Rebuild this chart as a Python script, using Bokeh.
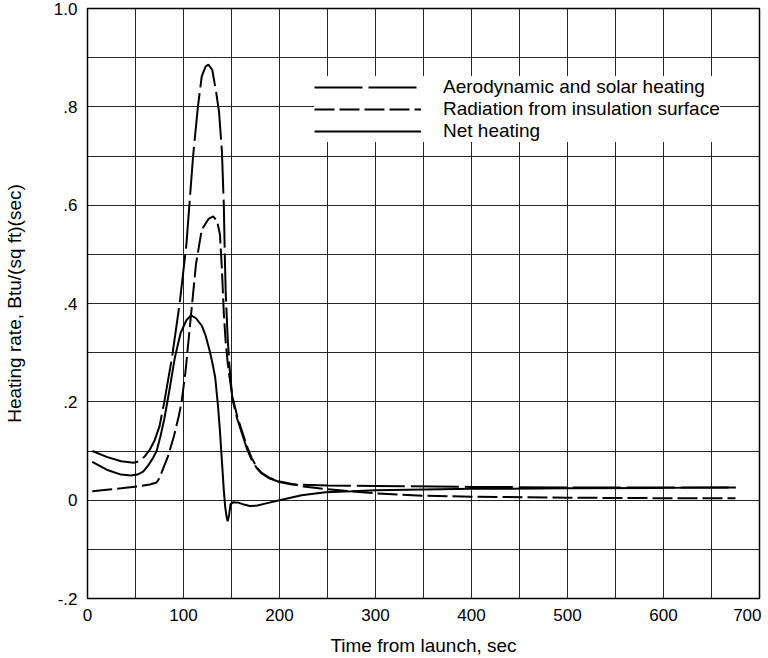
from bokeh.plotting import figure
from bokeh.models import Range1d, FixedTicker, CustomJSTickFormatter
from bokeh.embed import file_html
from bokeh.resources import INLINE

# ---- data ----
aero_t = [5, 20, 35, 48, 55, 60, 65, 70, 75, 80, 88, 96, 103, 110, 115, 119, 123, 126, 130, 134, 137,
          140, 142, 143, 144, 146, 148, 151, 156, 161, 166, 171, 176, 181, 190, 200, 213, 250, 300,
          400, 500, 600, 675]
aero_v = [0.100, 0.088, 0.079, 0.076, 0.080, 0.090, 0.103, 0.122, 0.150, 0.200, 0.290, 0.400, 0.520,
          0.700, 0.800, 0.862, 0.882, 0.886, 0.875, 0.830, 0.790, 0.710, 0.600, 0.500, 0.420, 0.330,
          0.270, 0.205, 0.165, 0.135, 0.105, 0.082, 0.066, 0.055, 0.044, 0.037, 0.032, 0.030, 0.029,
          0.027, 0.026, 0.026, 0.026]

rad_t = [5, 20, 35, 53, 65, 72, 75, 78, 84, 90, 95, 98, 102, 105, 109, 113, 119, 126, 131, 135, 138,
         140, 142, 144, 146, 148, 151, 156, 161, 166, 171, 176, 181, 190, 200, 225, 250, 300, 350,
         400, 500, 600, 675]
rad_v = [0.018, 0.021, 0.024, 0.028, 0.032, 0.036, 0.045, 0.060, 0.090, 0.130, 0.170, 0.200, 0.260,
         0.320, 0.400, 0.480, 0.550, 0.572, 0.577, 0.568, 0.540, 0.470, 0.380, 0.320, 0.280, 0.250,
         0.210, 0.170, 0.140, 0.110, 0.086, 0.068, 0.056, 0.045, 0.038, 0.028, 0.022, 0.014, 0.009,
         0.007, 0.005, 0.004, 0.004]

net_t = [5, 20, 35, 45, 52, 58, 63, 68, 72, 76, 80, 85, 91, 97, 103, 108, 113, 119, 123, 127, 130,
         133, 136, 138, 140, 142, 143.5, 145, 146, 147.5, 149, 152, 157, 163, 169, 177, 185, 200,
         223, 248, 275, 300, 400, 500, 600, 675]
net_v = [0.078, 0.062, 0.052, 0.050, 0.052, 0.058, 0.070, 0.085, 0.100, 0.130, 0.165, 0.220, 0.290,
         0.340, 0.366, 0.376, 0.370, 0.355, 0.335, 0.306, 0.280, 0.250, 0.190, 0.140, 0.080, 0.020,
         -0.015, -0.035, -0.043, -0.030, -0.008, -0.004, -0.005, -0.009, -0.012, -0.011, -0.007,
         0.000, 0.010, 0.016, 0.018, 0.020, 0.023, 0.024, 0.025, 0.026]

x_label_ticks = [0, 100, 200, 300, 400, 500, 600, 700]
x_grid_ticks = [0, 50, 100, 150, 200, 250, 300, 350, 400, 450, 500, 550, 600, 650, 700]
y_label_ticks = [-0.2, 0.0, 0.2, 0.4, 0.6, 0.8, 1.0]
y_grid_ticks = [-0.2, -0.1, 0.0, 0.1, 0.2, 0.3, 0.4, 0.5, 0.6, 0.7, 0.8, 0.9, 1.0]

labels = ["Aerodynamic and solar heating", "Radiation from insulation surface", "Net heating"]

FONT = "Liberation Sans"

p = figure(frame_width=672, frame_height=590,
           min_border_left=78, min_border_right=2, min_border_top=8, min_border_bottom=50,
           x_range=Range1d(0, 700), y_range=Range1d(-0.2, 1.0),
           output_backend="svg", toolbar_location=None)
p.background_fill_color = "white"
p.border_fill_color = "white"
p.outline_line_color = "black"
p.outline_line_width = 1.5

p.xaxis.ticker = FixedTicker(ticks=x_label_ticks)
p.yaxis.ticker = FixedTicker(ticks=y_label_ticks)
p.xgrid.ticker = FixedTicker(ticks=x_grid_ticks)
p.ygrid.ticker = FixedTicker(ticks=y_grid_ticks)
p.yaxis.formatter = CustomJSTickFormatter(code="""
if (Math.abs(tick) < 1e-9) return '0';
if (Math.abs(tick - 1) < 1e-9) return '1.0';
return tick.toFixed(1).replace('0.', '.');
""")

for g in (p.xgrid, p.ygrid):
    g.grid_line_color = "black"
    g.grid_line_alpha = 0.85
    g.grid_line_width = 1

for ax in (p.xaxis, p.yaxis):
    ax.axis_line_color = None
    ax.major_tick_line_color = None
    ax.minor_tick_line_color = None
    ax.major_label_text_font = FONT
    ax.major_label_text_font_size = "17px"
    ax.major_label_text_color = "black"
    ax.axis_label_text_font = FONT
    ax.axis_label_text_font_size = "19px"
    ax.axis_label_text_font_style = "normal"
    ax.axis_label_text_color = "black"
    ax.major_label_standoff = 4

p.xaxis.axis_label = "Time from launch, sec"
p.yaxis.axis_label = "Heating rate, Btu/(sq ft)(sec)"
p.xaxis.axis_label_standoff = 11
p.yaxis.axis_label_standoff = 26

p.line(aero_t, aero_v, line_color="black", line_width=2, line_dash="48 6", legend_label=labels[0])
p.line(rad_t, rad_v, line_color="black", line_width=2, line_dash="20 5", legend_label=labels[1])
p.line(net_t, net_v, line_color="black", line_width=2, legend_label=labels[2])

lg = p.legend[0]
lg.location = (227, 456)
lg.margin = 0
lg.padding = 12
lg.spacing = 0
lg.glyph_width = 107
lg.glyph_height = 20
lg.label_height = 20
lg.label_standoff = 22
lg.label_text_font = FONT
lg.label_text_font_size = "19px"
lg.label_text_color = "black"
lg.background_fill_color = "white"
lg.background_fill_alpha = 1.0
lg.border_line_color = None

open("out.html", "w").write(file_html(p, INLINE))
